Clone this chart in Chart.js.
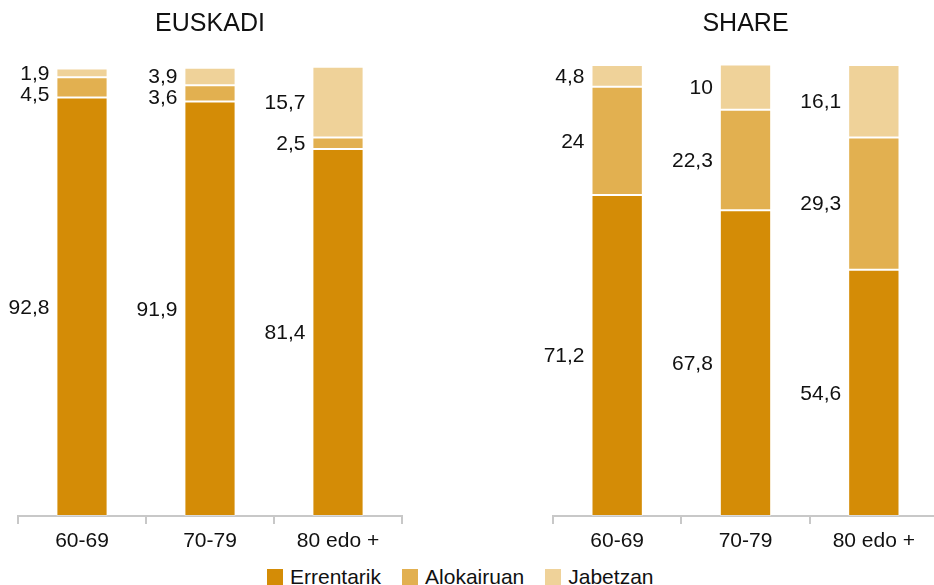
<!DOCTYPE html>
<html>
<head>
<meta charset="utf-8">
<script src="https://cdn.jsdelivr.net/npm/chart.js@4"></script>
<style>
  body { margin: 0; background: #fff; font-family: "Liberation Sans", Arial, sans-serif; overflow: hidden; }
  #wrap { position: relative; width: 934px; height: 585px; overflow: hidden; }
  .box { position: absolute; top: 0; height: 552px; }
  #legend { position: absolute; left: 267px; top: 565px; display: flex; font-size: 21px; color: #111; }
  #legend span.item { display: flex; align-items: center; margin-right: 21px; }
  #legend i { display: inline-block; width: 16px; height: 16px; margin-right: 7px; }
</style>
</head>
<body>
<div id="wrap">
  <div class="box" style="left:0; width:467px"><canvas id="chartEuskadi"></canvas></div>
  <div class="box" style="left:467px; width:475px"><canvas id="chartShare"></canvas></div>
  <div id="legend"></div>
</div>
<script>
// Categories and series
const categories = ["60-69", "70-79", "80 edo +"];
const seriesNames = ["Errentarik", "Alokairuan", "Jabetzan"];
const colors = ["#d48c06", "#e2b050", "#efd299"];

// EUSKADI values
const euskadiErrentarik = [92.8, 91.9, 81.4];
const euskadiAlokairuan = [4.5, 3.6, 2.5];
const euskadiJabetzan = [1.9, 3.9, 15.7];

// SHARE values
const shareErrentarik = [71.2, 67.8, 54.6];
const shareAlokairuan = [24, 22.3, 29.3];
const shareJabetzan = [4.8, 10, 16.1];

const fontFamily = "'Liberation Sans', Arial, sans-serif";

/* Draw value labels to the left of each segment */
const sideLabels = {
  id: "sideLabels",
  afterDatasetsDraw(chart) {
    const ctx = chart.ctx;
    ctx.save();
    ctx.font = "21px " + fontFamily;
    ctx.fillStyle = "#111";
    ctx.textAlign = "right";
    ctx.textBaseline = "middle";
    const n = chart.data.labels.length;
    for (let i = 0; i < n; i++) {
      let lastY = -Infinity;
      // from top segment down, keep labels apart
      for (let d = chart.data.datasets.length - 1; d >= 0; d--) {
        const bar = chart.getDatasetMeta(d).data[i];
        let y = (bar.y + bar.base) / 2;
        if (y < lastY + 21) y = lastY + 21;
        lastY = y;
        const val = chart.data.datasets[d].data[i];
        const txt = String(val).replace(".", ",");
        ctx.fillText(txt, bar.x - bar.width / 2 - 7, y + 1);
      }
    }
    ctx.restore();
  }
};

function makeChart(id, title, values, pad) {
  new Chart(document.getElementById(id).getContext("2d"), {
    type: "bar",
    data: {
      labels: categories,
      datasets: values.map((v, k) => ({
        label: seriesNames[k],
        data: v,
        backgroundColor: colors[k],
        borderColor: "rgba(255,255,255,0.35)",
        borderWidth: 1,
        borderSkipped: false,
        barPercentage: 0.4,
        categoryPercentage: 1,
      })),
    },
    options: {
      responsive: true,
      maintainAspectRatio: false,
      animation: false,
      layout: { padding: pad },
      plugins: {
        legend: { display: false },
        tooltip: { enabled: false },
        title: {
          display: true,
          text: title,
          color: "#111",
          font: { family: fontFamily, size: 25, weight: "normal" },
          padding: { top: 9, bottom: 26 },
        },
      },
      scales: {
        x: {
          stacked: true,
          grid: {
            offset: true,
            drawOnChartArea: false,
            color: "#c8c8c8",
            tickLength: 8,
            lineWidth: 2,
          },
          border: { color: "#c8c8c8", width: 2 },
          ticks: {
            color: "#111",
            font: { family: fontFamily, size: 21 },
            padding: 5,
          },
          afterFit(scale) { scale.height = 36; },
        },
        y: {
          stacked: true,
          display: false,
          min: 0,
          max: 100,
        },
      },
    },
    plugins: [sideLabels],
  });
}

makeChart("chartEuskadi", "EUSKADI",
  [euskadiErrentarik, euskadiAlokairuan, euskadiJabetzan],
  { left: 18, right: 65, top: 0, bottom: 0 });
makeChart("chartShare", "SHARE",
  [shareErrentarik, shareAlokairuan, shareJabetzan],
  { left: 86, right: 4, top: 0, bottom: 0 });

// Shared legend
const legend = document.getElementById("legend");
seriesNames.forEach((name, k) => {
  const item = document.createElement("span");
  item.className = "item";
  item.innerHTML = '<i style="background:' + colors[k] + '"></i>' + name;
  legend.appendChild(item);
});
</script>
</body>
</html>
